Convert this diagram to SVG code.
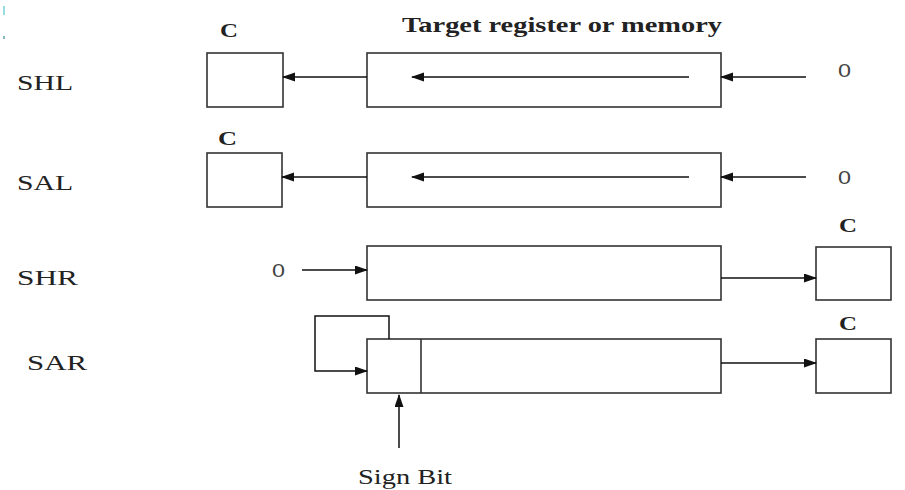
<svg xmlns="http://www.w3.org/2000/svg" width="905" height="490" viewBox="0 0 905 490">
  <style>
    .box { fill: #ffffff; stroke: #333333; stroke-width: 1.6; }
    .wire { fill: none; stroke: #111111; stroke-width: 1.5; }
    .lbl { font-family: "Liberation Serif", "Times New Roman", serif; font-size: 22px; fill: #222222; }
    .bold { font-family: "Liberation Serif", "Times New Roman", serif; font-weight: bold; fill: #222222; }
    .zero { font-family: "Liberation Sans", Arial, sans-serif; font-size: 19px; fill: #444444; }
  </style>
  <defs>
    <marker id="head" markerUnits="userSpaceOnUse" markerWidth="13" markerHeight="10" refX="12" refY="4.5" orient="auto">
      <path d="M0,0 L13,4.5 L0,9 z" fill="#111111"/>
    </marker>
  </defs>
  <rect width="905" height="490" fill="#ffffff"/>

  <!-- small cyan specks at the top-left corner -->
  <rect x="3" y="6" width="2" height="9" fill="#7fd6d6" opacity="0.8"/>
  <rect x="3" y="36" width="2" height="3" fill="#6aa8b0" opacity="0.8"/>

  <!-- heading -->
  <text class="bold" x="402" y="32" font-size="22" textLength="320" lengthAdjust="spacingAndGlyphs">Target register or memory</text>

  <!-- instruction names -->
  <text class="lbl" x="17" y="90" textLength="56" lengthAdjust="spacingAndGlyphs">SHL</text>
  <text class="lbl" x="17" y="190" textLength="56" lengthAdjust="spacingAndGlyphs">SAL</text>
  <text class="lbl" x="17" y="285" textLength="61" lengthAdjust="spacingAndGlyphs">SHR</text>
  <text class="lbl" x="27" y="370" textLength="60" lengthAdjust="spacingAndGlyphs">SAR</text>

  <!-- SHL row -->
  <g id="shl-carry">
    <text class="bold" x="220" y="37" font-size="19" textLength="18" lengthAdjust="spacingAndGlyphs">C</text>
    <rect class="box" x="207" y="53" width="76" height="54"/>
  </g>
  <g id="shl-register">
    <rect class="box" x="367" y="53" width="354" height="54"/>
  </g>
  <g id="shl-fill">
    <text class="zero" x="838" y="77" textLength="13" lengthAdjust="spacingAndGlyphs">0</text>
  </g>

  <!-- SAL row -->
  <g id="sal-carry">
    <text class="bold" x="218" y="145" font-size="19" textLength="19" lengthAdjust="spacingAndGlyphs">C</text>
    <rect class="box" x="207" y="153" width="75" height="54"/>
  </g>
  <g id="sal-register">
    <rect class="box" x="367" y="153" width="354" height="54"/>
  </g>
  <g id="sal-fill">
    <text class="zero" x="838" y="184" textLength="13" lengthAdjust="spacingAndGlyphs">0</text>
  </g>

  <!-- SHR row -->
  <g id="shr-fill">
    <text class="zero" x="272" y="277" textLength="13" lengthAdjust="spacingAndGlyphs">0</text>
  </g>
  <g id="shr-register">
    <rect class="box" x="367" y="246" width="354" height="54"/>
  </g>
  <g id="shr-carry">
    <text class="bold" x="839" y="232" font-size="19" textLength="18" lengthAdjust="spacingAndGlyphs">C</text>
    <rect class="box" x="816" y="247" width="75" height="53"/>
  </g>

  <!-- SAR row -->
  <g id="sar-register">
    <rect class="box" x="367" y="339" width="354" height="54"/>
    <line class="box" x1="421" y1="339" x2="421" y2="393"/>
  </g>
  <g id="sar-carry">
    <text class="bold" x="839" y="330" font-size="19" textLength="18" lengthAdjust="spacingAndGlyphs">C</text>
    <rect class="box" x="816" y="339" width="75" height="54"/>
  </g>
  <g id="sign-bit">
    <text class="lbl" x="358" y="484" font-size="20" textLength="94" lengthAdjust="spacingAndGlyphs">Sign Bit</text>
  </g>

  <!-- connectors -->
  <g id="connectors">
    <line class="wire" x1="689" y1="77" x2="412" y2="77" marker-end="url(#head)"/>
    <line class="wire" x1="367" y1="77" x2="283" y2="77" marker-end="url(#head)"/>
    <line class="wire" x1="806" y1="77" x2="721" y2="77" marker-end="url(#head)"/>

    <line class="wire" x1="689" y1="177" x2="412" y2="177" marker-end="url(#head)"/>
    <line class="wire" x1="367" y1="177" x2="282" y2="177" marker-end="url(#head)"/>
    <line class="wire" x1="806" y1="177" x2="721" y2="177" marker-end="url(#head)"/>

    <line class="wire" x1="302" y1="270" x2="367" y2="270" marker-end="url(#head)"/>
    <line class="wire" x1="721" y1="278" x2="816" y2="278" marker-end="url(#head)"/>

    <path class="wire" d="M389,339 V316 H315 V371 H367" marker-end="url(#head)"/>
    <line class="wire" x1="721" y1="363" x2="816" y2="363" marker-end="url(#head)"/>
    <line class="wire" x1="399" y1="448" x2="399" y2="395" marker-end="url(#head)"/>
  </g>
</svg>
